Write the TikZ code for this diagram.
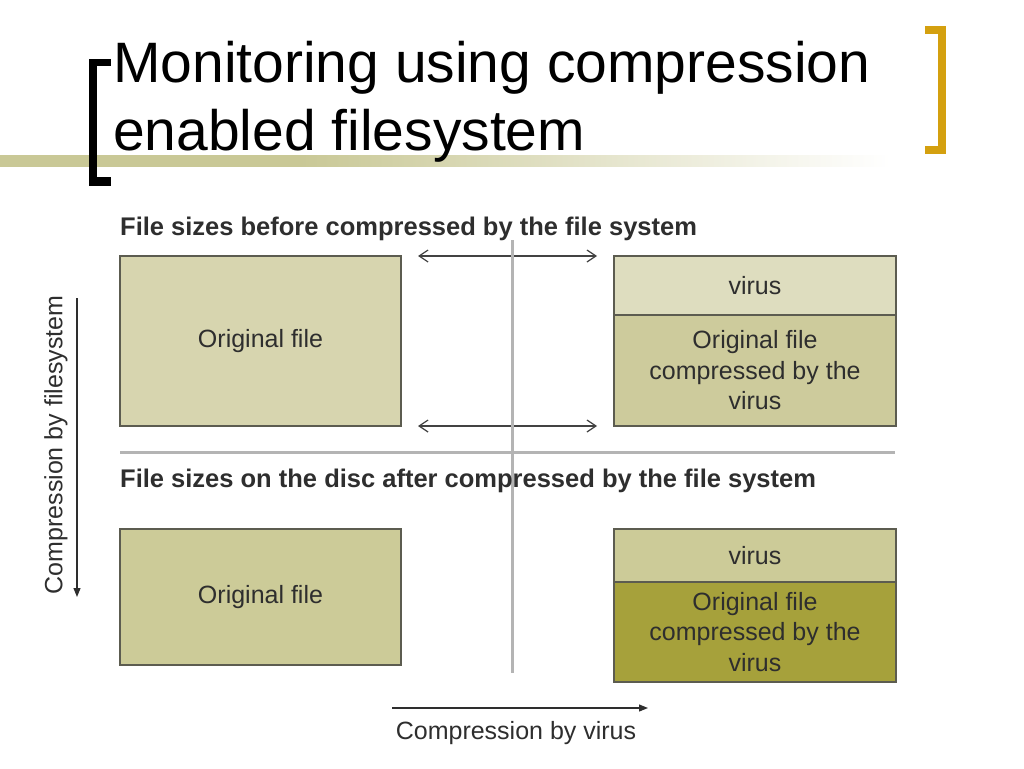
\documentclass[tikz,border=0pt]{standalone}
\usepackage{fontspec}
\setmainfont{Liberation Sans}
\usepackage{xcolor}
\usepackage{tikz}
\usetikzlibrary{positioning,arrows.meta,calc}
\definecolor{BoxEdge}{HTML}{5C5C50}
\definecolor{TextDark}{HTML}{2E2E2E}
\definecolor{FillOrigTop}{HTML}{D7D5AF}
\definecolor{FillVirusLight}{HTML}{DEDDBF}
\definecolor{FillCompMid}{HTML}{CDCB9C}
\definecolor{FillOrigLow}{HTML}{CCCB98}
\definecolor{FillCompDark}{HTML}{A6A13B}
\definecolor{DividerGray}{HTML}{B4B4B4}
\definecolor{TitleBand}{HTML}{C9C896}
\definecolor{GoldBracket}{HTML}{D4A00F}

\begin{document}
\begin{tikzpicture}[x=1pt,y=-1pt,
    filebox/.style={draw=BoxEdge, line width=1.2pt, inner sep=0pt, outer sep=0pt,
      anchor=north west, align=center, text=TextDark,
      font=\fontsize{25}{30.5}\selectfont},
    leftcol/.style={minimum width=281pt},
    rightcol/.style={minimum width=282pt},
    sizearrow/.style={draw=TextDark!90, line width=1.2pt,
      {Straight Barb[length=9pt,width=12pt]}-{Straight Barb[length=9pt,width=12pt]},
      shorten <=17pt, shorten >=17pt},
    axisarrow/.style={draw=TextDark, line width=1.2pt, -{Triangle[length=9pt,width=7pt]}},
    divider/.style={draw=DividerGray, line width=3pt},
    caption/.style={inner sep=0pt, anchor=base west, text=TextDark,
      font=\fontsize{25.5}{30}\selectfont\bfseries},
    axislabel/.style={inner sep=0pt, text=TextDark, font=\fontsize{25}{30}\selectfont}]
  \useasboundingbox (0,0) rectangle (1024,768);

  % title band and brackets
  \shade[left color=TitleBand, right color=TitleBand] (0,155) rectangle (320,166);
  \shade[left color=TitleBand, right color=white] (300,155) rectangle (890,166);
  \fill[black] (89,59) rectangle (97,186);
  \fill[black] (89,59) rectangle (111,66);
  \fill[black] (89,177) rectangle (111,186);
  \fill[GoldBracket] (938,26) rectangle (946,154);
  \fill[GoldBracket] (925,26) rectangle (946,34);
  \fill[GoldBracket] (925,146) rectangle (946,154);

  \node[inner sep=0pt, anchor=base west, font=\fontsize{57}{68}\selectfont]
    (titleA) at (113,82) {Monitoring using compression};
  \node[inner sep=0pt, anchor=base west, font=\fontsize{57}{68}\selectfont]
    (titleB) at (113,150) {enabled filesystem};

  % before the filesystem compresses
  \node[filebox, leftcol, fill=FillOrigTop, minimum height=170pt]
    (origTop) at (120,256) {Original file};
  \node[filebox, rightcol, fill=FillVirusLight, minimum height=59pt]
    (virusTop) at (614,256) {virus};
  \node[filebox, rightcol, fill=FillCompMid, minimum height=111pt, below=0pt of virusTop]
    (compTop) {Original file\\compressed by the\\virus};

  % on the disc
  \node[filebox, leftcol, fill=FillOrigLow, minimum height=136pt]
    (origLow) at (120,529) {Original file};
  \node[filebox, rightcol, fill=FillOrigLow, minimum height=53pt]
    (virusLow) at (614,529) {virus};
  \node[filebox, rightcol, fill=FillCompDark, minimum height=100pt, below=0pt of virusLow]
    (compLow) {Original file\\compressed by the\\virus};

  \draw[sizearrow] (origTop.north east) -- (virusTop.north west);
  \draw[sizearrow] (origTop.south east) -- (compTop.south west);

  \coordinate (splitTop) at (512,240);
  \coordinate (splitEnd) at (512,673);
  \coordinate (rowLeft) at (120,452);
  \coordinate (rowRight) at (895,452);
  \draw[divider] (splitTop) -- (splitEnd);
  \draw[divider] (rowLeft) -- (rowRight);

  \node[caption] (capBefore) at (120,235) {File sizes before compressed by the file system};
  \node[caption] (capAfter) at (120,487) {File sizes on the disc after compressed by the file system};

  % axes
  \coordinate (fsStart) at (77,298);
  \coordinate (fsEnd) at (77,597);
  \coordinate (vrStart) at (392,708);
  \coordinate (vrEnd) at (648,708);
  \draw[axisarrow] (fsStart) -- (fsEnd);
  \draw[axisarrow] (vrStart) -- (vrEnd);
  \node[axislabel, rotate=90] (fsLabel) at (56,445) {Compression by filesystem};
  \node[axislabel, anchor=base] (vrLabel) at (516,739) {Compression by virus};
\end{tikzpicture}
\end{document}
